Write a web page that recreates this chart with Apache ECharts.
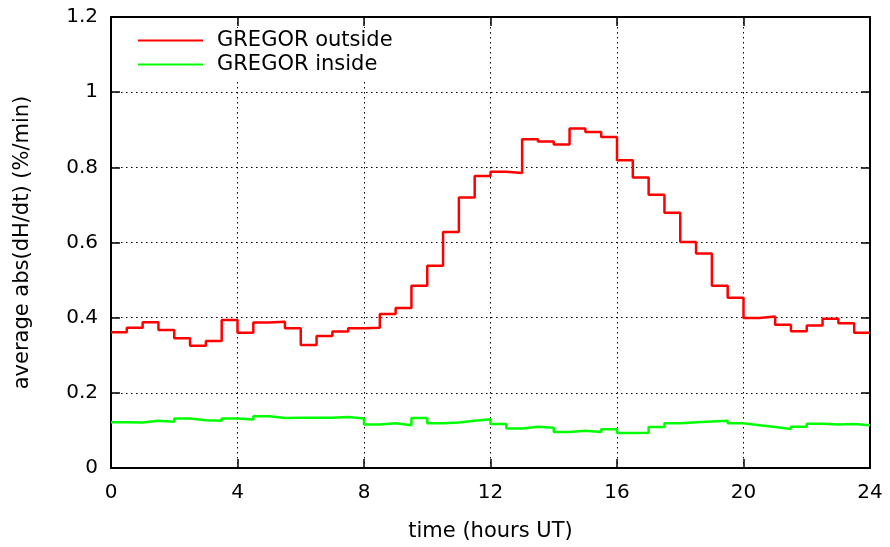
<!DOCTYPE html>
<html>
<head>
<meta charset="utf-8">
<script src="https://cdn.jsdelivr.net/npm/echarts@6/dist/echarts.min.js"></script>
<style>
  html, body { margin: 0; padding: 0; background: #fff; }
  #chart { width: 890px; height: 547px; }
</style>
</head>
<body>
<div id="chart"></div>
<script>
// half-hour bins, 0 - 24 h UT
const binWidth = 0.5
const outside = [
  0.361, 0.373, 0.388, 0.367, 0.345, 0.325, 0.338, 0.394, 0.360, 0.387, 0.389, 0.372,
  0.327, 0.351, 0.363, 0.372, 0.373, 0.410, 0.426, 0.485, 0.538, 0.628, 0.720, 0.777,
  0.788, 0.785, 0.875, 0.869, 0.861, 0.903, 0.894, 0.881, 0.819, 0.773, 0.727, 0.679,
  0.601, 0.571, 0.485, 0.453, 0.399, 0.403, 0.381, 0.364, 0.379, 0.397, 0.385, 0.360
]
const inside = [
  0.122, 0.121, 0.126, 0.123, 0.132, 0.127, 0.126, 0.132, 0.129, 0.138, 0.133, 0.134,
  0.134, 0.134, 0.136, 0.132, 0.116, 0.119, 0.114, 0.133, 0.119, 0.121, 0.126, 0.130,
  0.117, 0.105, 0.110, 0.107, 0.096, 0.099, 0.096, 0.103, 0.093, 0.094, 0.109, 0.119,
  0.122, 0.124, 0.126, 0.119, 0.114, 0.109, 0.104, 0.110, 0.118, 0.116, 0.117, 0.114
]
const seriesNames = ['GREGOR outside', 'GREGOR inside']

// step points: value of bin i holds from i*binWidth to (i+1)*binWidth
function toSteps(vals) {
  let pts = vals.map((v, i) => [i * binWidth, v])
  pts.push([vals.length * binWidth, vals[vals.length - 1]])
  return pts
}

const font = 'DejaVu Sans'
const gridDots = { color: '#000', width: 1, type: [1.5, 3.5] }
const border = { show: true, onZero: false, lineStyle: { color: '#000', width: 2 } }
const ticks = { show: true, inside: true, length: 9, lineStyle: { color: '#000', width: 1.5 } }

let myChart = echarts.init(document.getElementById('chart'))

let option = {
  animation: false,
  backgroundColor: '#fff',
  grid: { left: 111, right: 20, top: 17, bottom: 79 },
  legend: {
    orient: 'vertical',
    left: 120,
    top: 28,
    padding: [2, 20, 4, 18],
    backgroundColor: '#fff',
    icon: 'rect',
    itemWidth: 65,
    itemHeight: 2,
    itemGap: 3,
    textStyle: { fontFamily: font, fontSize: 21, color: '#000', lineHeight: 21, padding: [0, 0, 0, 9] },
    data: seriesNames
  },
  xAxis: [
    {
      type: 'value',
      min: 0,
      max: 24,
      interval: 4,
      name: 'time (hours UT)',
      nameLocation: 'middle',
      nameGap: 53,
      nameTextStyle: { fontFamily: font, fontSize: 21, color: '#000' },
      axisLine: border,
      axisTick: ticks,
      axisLabel: { fontFamily: font, fontSize: 20, color: '#000', margin: 15 },
      splitLine: { show: true, lineStyle: gridDots }
    },
    {
      type: 'value',
      position: 'top',
      min: 0,
      max: 24,
      interval: 4,
      axisLine: border,
      axisTick: ticks,
      axisLabel: { show: false },
      splitLine: { show: false }
    }
  ],
  yAxis: [
    {
      type: 'value',
      min: 0,
      max: 1.2,
      interval: 0.2,
      name: 'average abs(dH/dt) (%/min)',
      nameLocation: 'middle',
      nameGap: 78,
      nameTextStyle: { fontFamily: font, fontSize: 21, color: '#000' },
      axisLine: border,
      axisTick: ticks,
      axisLabel: { fontFamily: font, fontSize: 20, color: '#000', margin: 13 },
      splitLine: { show: true, lineStyle: gridDots }
    },
    {
      type: 'value',
      position: 'right',
      min: 0,
      max: 1.2,
      interval: 0.2,
      axisLine: border,
      axisTick: ticks,
      axisLabel: { show: false },
      splitLine: { show: false }
    }
  ],
  series: [
    {
      name: seriesNames[0],
      type: 'line',
      step: 'end',
      symbol: 'none',
      color: '#ff0000',
      lineStyle: { color: '#ff0000', width: 2.5 },
      data: toSteps(outside)
    },
    {
      name: seriesNames[1],
      type: 'line',
      step: 'end',
      symbol: 'none',
      color: '#00ff00',
      lineStyle: { color: '#00ff00', width: 2.5 },
      data: toSteps(inside)
    }
  ]
}

myChart.setOption(option)
</script>
</body>
</html>
